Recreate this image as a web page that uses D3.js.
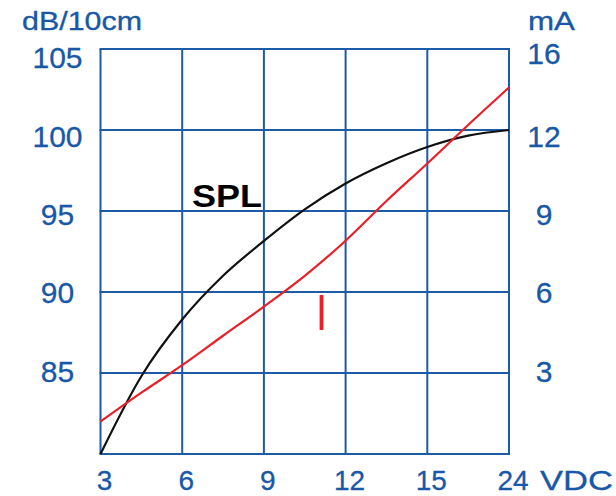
<!DOCTYPE html>
<html>
<head>
<meta charset="utf-8">
<script src="https://cdn.jsdelivr.net/npm/d3@7"></script>
<style>
  html, body { margin: 0; padding: 0; background: #fff; }
  svg { display: block; font-family: "Liberation Sans", Arial, Helvetica, sans-serif; }
</style>
</head>
<body>
<svg id="chart" width="616" height="496"></svg>
<script>
// ---- data ----
const xTicks = [3, 6, 9, 12, 15, 24];            // VDC (categorical spacing)
const leftTicks = [80, 85, 90, 95, 100, 105];    // dB/10cm
const leftLabels = [85, 90, 95, 100, 105];
const rightTicks = [0, 3, 6, 9, 12, 16];         // mA
const rightLabels = [3, 6, 9, 12, 16];

const volts = [3, 4.5, 6, 7.5, 9, 10.5, 12, 13.5, 15, 19.5, 24];
const splValues = [80, 84.8, 88.3, 91.0, 93.15, 95.1, 96.7, 97.95, 98.95, 99.65, 100];
const currentValues = [1.2, 2.27, 3.29, 4.38, 5.46, 6.6, 7.9, 9.37, 10.76, 12.25, 14.1];

// ---- layout ----
const blue = "#1d5ba7";
const textBlue = "#1858a6";
const red = "#e8202a";
const plot = { left: 100.5, right: 509, top: 49, bottom: 454 };

const svg = d3.select("#chart");

const xPoint = d3.scalePoint().domain(xTicks).range([plot.left, plot.right]);
const x = d3.scaleLinear().domain(xTicks).range(xTicks.map(v => xPoint(v)));
const yL = d3.scaleLinear().domain([80, 105]).range([plot.bottom, plot.top]);
const yR = d3.scaleLinear().domain(rightTicks).range(leftTicks.map(v => yL(v)));
// label placement (labels sit slightly off their grid lines in the original)
const yLabel = d3.scaleLinear().domain([85, 105]).range([371, 57.5]);
const yLabelR = d3.scaleLinear().domain(rightLabels).range(leftLabels.map(v => yLabel(v)));

// ---- grid ----
const grid = svg.append("g").attr("stroke", blue).attr("stroke-width", 2).attr("fill", "none");
grid.selectAll("line.v").data(xTicks).join("line")
  .attr("x1", d => xPoint(d)).attr("x2", d => xPoint(d))
  .attr("y1", yL(80)).attr("y2", yL(105));
grid.selectAll("line.h").data(leftTicks).join("line")
  .attr("y1", d => yL(d)).attr("y2", d => yL(d))
  .attr("x1", plot.left - 1).attr("x2", plot.right + 1);

// ---- curves ----
const splLine = d3.line()
  .x((d, i) => x(volts[i]))
  .y(d => yL(d))
  .curve(d3.curveMonotoneX);
const iLine = d3.line()
  .x((d, i) => x(volts[i]))
  .y(d => yR(d))
  .curve(d3.curveMonotoneX);

svg.append("path").datum(splValues).attr("d", splLine)
  .attr("fill", "none").attr("stroke", "#111").attr("stroke-width", 2.2);
svg.append("path").datum(currentValues).attr("d", iLine)
  .attr("fill", "none").attr("stroke", red).attr("stroke-width", 2.2);

// ---- text helpers ----
const blueText = sel => sel.attr("fill", textBlue).attr("stroke", textBlue).attr("stroke-width", 0.3);

// ---- tick labels ----
svg.append("g").selectAll("text").data(leftLabels).join("text")
  .attr("x", 57.5).attr("y", d => yLabel(d)).attr("dy", "0.36em")
  .attr("text-anchor", "middle").attr("font-size", 30)
  .call(blueText)
  .text(d => d);

svg.append("g").selectAll("text").data(rightLabels).join("text")
  .attr("x", 544).attr("y", d => yLabelR(d) - (d === 16 ? 4 : 0)).attr("dy", "0.36em")
  .attr("text-anchor", "middle").attr("font-size", 30)
  .call(blueText)
  .text(d => d);

svg.append("g").selectAll("text").data(xTicks).join("text")
  .attr("x", d => xPoint(d) + 4).attr("y", 490)
  .attr("text-anchor", "middle").attr("font-size", 28)
  .call(blueText)
  .text(d => d);

svg.append("text").attr("x", 540).attr("y", 490)
  .attr("font-size", 28).call(blueText)
  .attr("textLength", 73).attr("lengthAdjust", "spacingAndGlyphs")
  .text("VDC");

// ---- axis titles ----
svg.append("text").attr("x", 22).attr("y", 30)
  .attr("font-size", 25).call(blueText)
  .attr("textLength", 120).attr("lengthAdjust", "spacingAndGlyphs")
  .text("dB/10cm");
svg.append("text").attr("x", 528).attr("y", 30)
  .attr("font-size", 25).call(blueText)
  .attr("textLength", 47).attr("lengthAdjust", "spacingAndGlyphs")
  .text("mA");

// ---- series labels ----
svg.append("text").attr("x", 192).attr("y", 207)
  .attr("font-size", 32).attr("font-weight", "bold").attr("fill", "#000")
  .attr("textLength", 70).attr("lengthAdjust", "spacingAndGlyphs")
  .text("SPL");
svg.append("text").attr("x", 321.5).attr("y", 330)
  .attr("text-anchor", "middle").attr("font-size", 50).attr("fill", red)
  .attr("transform", "translate(321.5,0) scale(0.8,1) translate(-321.5,0)")
  .text("I");
</script>
</body>
</html>
